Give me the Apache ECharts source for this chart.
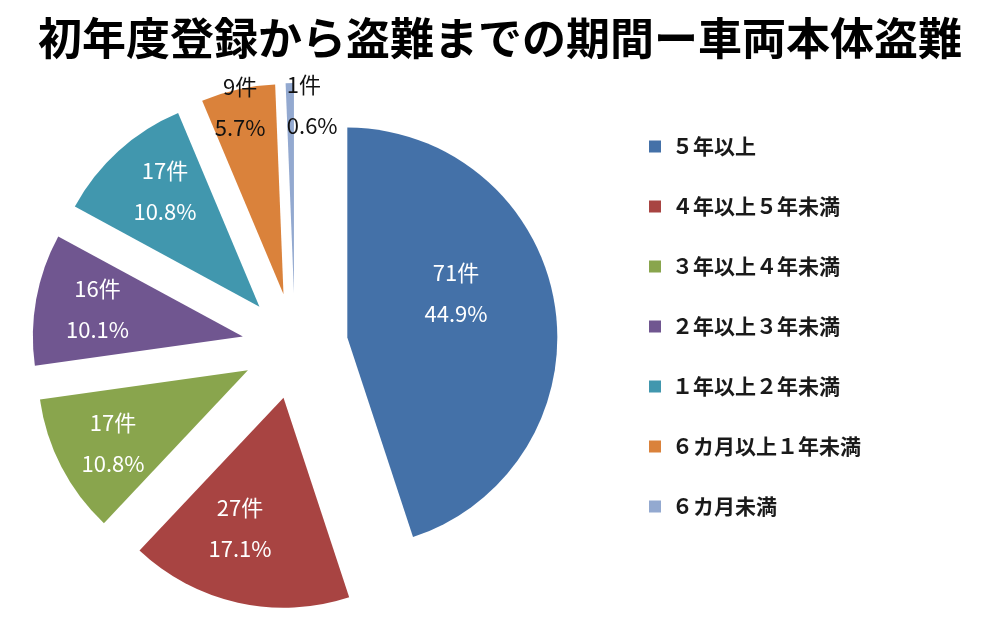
<!DOCTYPE html>
<html>
<head>
<meta charset="utf-8">
<script src="https://cdn.jsdelivr.net/npm/echarts@6/dist/echarts.min.js"></script>
<style>
  html, body { margin: 0; padding: 0; background: #fff; }
  #chart { width: 1000px; height: 620px; }
</style>
</head>
<body>
<div id="chart"></div>
<script>
// データ
const categories = ['５年以上', '４年以上５年未満', '３年以上４年未満', '２年以上３年未満', '１年以上２年未満', '６カ月以上１年未満', '６カ月未満'];
const counts = [71, 27, 17, 16, 17, 9, 1];
const colors = ['#4471A8', '#A84442', '#89A54D', '#705690', '#4197AE', '#DA823B', '#93A9D0'];
const labelColors = ['#fff', '#fff', '#fff', '#fff', '#fff', '#111', '#111'];
// ラベル位置の微調整（スライス内の既定位置からのずれ）
const labelShift = [[2, -27], [-20, 25], [-39, 23], [-39, -8], [-22, -35], [-20, -82], [-5, -80]];
const labelAligns = ['center', 'center', 'center', 'center', 'center', 'center', 'left'];

const font = '"Noto Sans CJK JP", "Noto Sans", sans-serif';

const chart = echarts.init(document.getElementById('chart'));
chart.setOption({
  animation: false,
  title: {
    text: '初年度登録から盗難までの期間ー車両本体盗難',
    left: 'center',
    top: 11,
    textStyle: { fontFamily: font, fontSize: 44, fontWeight: 'bold', color: '#000' }
  },
  legend: {
    orient: 'vertical',
    left: 644,
    top: 131,
    icon: 'rect',
    itemWidth: 12,
    itemHeight: 12,
    itemGap: 39,
    selectedMode: false,
    textStyle: { fontFamily: font, fontSize: 21, fontWeight: 'bold', color: '#1a1a1a', padding: [0, 0, 0, 6] },
    data: categories
  },
  series: [{
    type: 'pie',
    center: [295, 346],
    radius: 210,
    startAngle: 90,
    clockwise: true,
    selectedMode: 'multiple',
    selectedOffset: 53,
    percentPrecision: 1,
    avoidLabelOverlap: false,
    emphasis: { disabled: true },
    labelLine: { show: false },
    label: {
      position: 'inside',
      formatter: '{c}件\n{d}%',
      fontFamily: font,
      fontSize: 22,
      lineHeight: 41
    },
    labelLayout: function (p) {
      const s = labelShift[p.dataIndex];
      return { dx: s[0], dy: s[1], align: labelAligns[p.dataIndex], hideOverlap: false };
    },
    data: categories.map((name, i) => ({
      name: name,
      value: counts[i],
      selected: true,
      itemStyle: { color: colors[i] },
      label: { color: labelColors[i] }
    }))
  }]
});
</script>
</body>
</html>
